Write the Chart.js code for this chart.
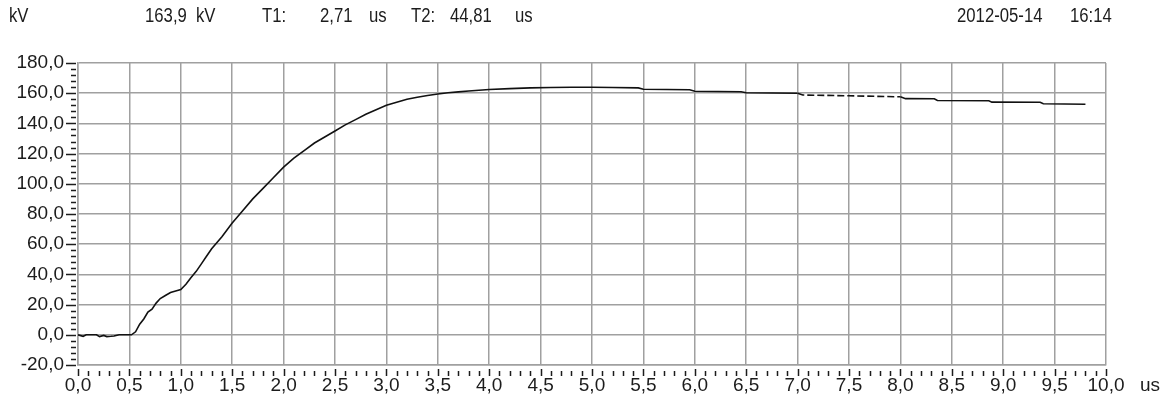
<!DOCTYPE html>
<html>
<head>
<meta charset="utf-8">
<script src="https://cdn.jsdelivr.net/npm/chart.js@4.4.1/dist/chart.umd.min.js"></script>
<style>
  html, body { margin: 0; padding: 0; background: #fff; }
  #wrap { position: relative; width: 1171px; height: 405px; overflow: hidden; }
  #impulse { position: absolute; left: 0; top: 0; }
  .lbl {
    position: absolute; top: 5px; white-space: pre;
    font-family: 'Liberation Sans', Arial, sans-serif;
    font-size: 19px; line-height: 19px; color: #1c1c1c;
    transform: scale(0.88, 1.08); transform-origin: left top;
  }
  .unit { top: 375px; transform: none; }
</style>
</head>
<body>
<div id="wrap">
  <canvas id="impulse" width="1171" height="405"></canvas>
  <span class="lbl" style="left:9px">kV</span>
  <span class="lbl" style="left:145px">163,9</span>
  <span class="lbl" style="left:196px">kV</span>
  <span class="lbl" style="left:262px">T1:</span>
  <span class="lbl" style="left:320px">2,71</span>
  <span class="lbl" style="left:369px">us</span>
  <span class="lbl" style="left:411px">T2:</span>
  <span class="lbl" style="left:450px">44,81</span>
  <span class="lbl" style="left:515px">us</span>
  <span class="lbl" style="left:957px">2012-05-14</span>
  <span class="lbl" style="left:1070px">16:14</span>
  <span class="lbl unit" style="left:1140px">us</span>
</div>
<script>
// impulse voltage record, time in us, voltage in kV
const timeUs = [
  0.00, 0.05, 0.08, 0.18, 0.21, 0.25, 0.28, 0.32, 0.35, 0.40,
  0.52, 0.56, 0.60, 0.64, 0.68, 0.72, 0.76, 0.80, 0.85, 0.90,
  0.95, 1.00, 1.05, 1.10, 1.15, 1.20, 1.25, 1.30, 1.40, 1.50,
  1.60, 1.70, 1.80, 1.90, 2.00, 2.10, 2.20, 2.30, 2.40, 2.50,
  2.60, 2.70, 2.80, 2.90, 3.00, 3.10, 3.20, 3.30, 3.40, 3.50,
  3.60, 3.70, 3.80, 3.90, 4.00, 4.20, 4.40, 4.60, 4.80, 5.00,
  5.20, 5.45, 5.50, 5.95, 6.00, 6.45, 6.50, 7.00, 7.05, 7.50,
  8.00, 8.05, 8.33, 8.36, 8.86, 8.89, 9.36, 9.39, 9.80
]
const voltageKv = [
  0.0, -1.0, 0.0, 0.0, -1.2, -0.4, -1.2, -1.0, -0.8, 0.0,
  0.0, 2.0, 7.0, 10.5, 15.0, 17.0, 21.0, 24.0, 26.0, 28.0,
  29.0, 30.0, 33.5, 38.0, 42.0, 47.0, 52.0, 57.0, 65.0, 74.0,
  82.0, 90.0, 97.0, 104.0, 111.0, 117.0, 122.0, 127.0, 131.0, 135.0,
  139.0, 142.5, 146.0, 149.0, 152.0, 154.0, 156.0, 157.3, 158.5, 159.5,
  160.3, 160.9, 161.5, 162.0, 162.5, 163.0, 163.5, 163.8, 163.9, 163.9,
  163.8, 163.5, 162.6, 162.3, 161.3, 161.0, 160.3, 160.0, 158.8, 158.3,
  157.6, 156.4, 156.3, 155.2, 155.0, 154.1, 154.0, 153.0, 152.7
]

// axis ranges and tick spacing
const xMin = 0, xMax = 10, xStep = 0.5, xMinor = 0.1
const yMin = -20, yMax = 180, yStep = 20, yMinor = 4

// the stretch recorded with gaps
const dashFrom = 7.0, dashTo = 8.0

const FONT = "'Liberation Sans', Arial, sans-serif"
const GRID = '#a0a0a0'
const INK = '#1c1c1c'

const comma = v => Number(v).toFixed(1).replace('.', ',')

// small tick marks outside the plot, on both axes
const minorTicks = {
  id: 'minorTicks',
  afterDraw(chart) {
    const { ctx, chartArea: a, scales: { x, y } } = chart
    ctx.save()
    ctx.strokeStyle = INK
    ctx.lineWidth = 1.5
    ctx.beginPath()
    const nx = Math.round((xMax - xMin) / xMinor)
    for (let i = 0; i <= nx; i++) {
      const px = Math.round(x.getPixelForValue(xMin + i * xMinor)) + 0.5
      const major = i % 5 === 0
      ctx.moveTo(px, a.bottom + (major ? 4 : 6))
      ctx.lineTo(px, a.bottom + 11)
    }
    const ny = Math.round((yMax - yMin) / yMinor)
    for (let i = 0; i <= ny; i++) {
      const py = Math.round(y.getPixelForValue(yMin + i * yMinor)) + 0.5
      const major = i % 5 === 0
      ctx.moveTo(a.left - (major ? 12 : 7), py)
      ctx.lineTo(a.left - 2, py)
    }
    ctx.stroke()
    ctx.restore()
  }
}

new Chart(document.getElementById('impulse'), {
  type: 'line',
  data: {
    datasets: [{
      data: timeUs.map((t, i) => ({ x: t, y: voltageKv[i] })),
      borderColor: '#111',
      borderWidth: 1.6,
      pointRadius: 0,
      tension: 0,
      fill: false,
      segment: {
        borderDash: c => (c.p0.parsed.x >= dashFrom && c.p1.parsed.x <= dashTo) ? [7, 3] : undefined
      }
    }]
  },
  options: {
    responsive: false,
    animation: false,
    events: [],
    layout: { padding: { left: 0, right: 65, top: 63, bottom: 0 } },
    plugins: { legend: { display: false }, tooltip: { enabled: false } },
    scales: {
      x: {
        type: 'linear',
        min: xMin,
        max: xMax,
        afterFit: s => { s.height = 40 },
        ticks: {
          stepSize: xStep,
          autoSkip: false,
          maxRotation: 0,
          padding: 9,
          color: INK,
          font: { family: FONT, size: 19 },
          callback: comma
        },
        grid: { color: GRID, lineWidth: 1.5, drawTicks: false },
        border: { color: GRID, width: 1.5 }
      },
      y: {
        min: yMin,
        max: yMax,
        afterFit: s => { s.width = 78 },
        ticks: {
          stepSize: yStep,
          autoSkip: false,
          padding: 14,
          color: INK,
          font: { family: FONT, size: 19 },
          callback: comma
        },
        grid: { color: GRID, lineWidth: 1.5, drawTicks: false },
        border: { color: GRID, width: 1.5 }
      }
    }
  },
  plugins: [minorTicks]
})
</script>
</body>
</html>
